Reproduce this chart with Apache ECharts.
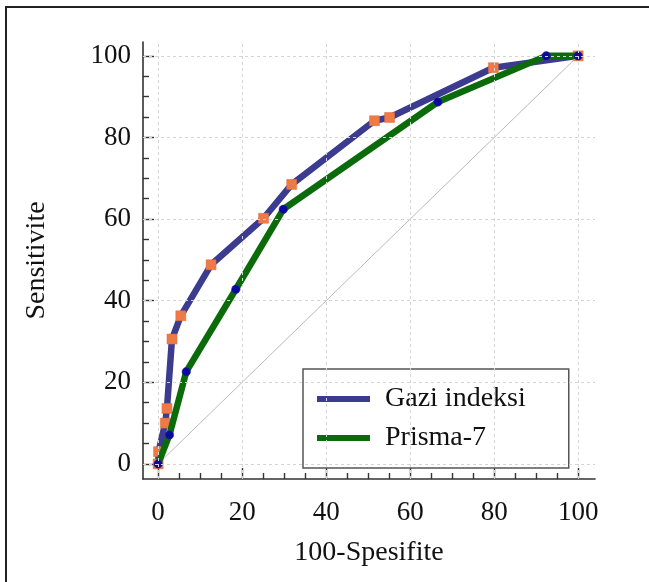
<!DOCTYPE html>
<html>
<head>
<meta charset="utf-8">
<script src="https://cdn.jsdelivr.net/npm/echarts@6/dist/echarts.min.js"></script>
<style>
html,body{margin:0;padding:0;width:649px;height:582px;overflow:hidden;background:#fff;}
#frame{position:absolute;left:5px;top:6px;width:900px;height:900px;border-left:2px solid #222;border-top:2px solid #222;box-sizing:border-box;}
#chart{position:absolute;left:0;top:0;width:649px;height:582px;}
</style>
</head>
<body>
<div id="frame"></div>
<div id="chart"></div>
<script>
// Data
const seriesNames = ['Gazi indeksi', 'Prisma-7'];
const gaziX = [0, 0.1, 1.7, 2.1, 3.3, 5.4, 12.6, 25.1, 31.8, 51.5, 55.1, 79.8, 100];
const gaziY = [0, 3.0, 10.0, 13.6, 30.6, 36.3, 48.8, 60.2, 68.5, 84.1, 84.9, 97.1, 100];
const prismaX = [0, 2.7, 6.7, 18.5, 29.8, 66.6, 92.4, 100];
const prismaY = [0, 7.1, 22.6, 42.8, 62.4, 88.7, 100, 100];
const diagX = [0, 100];
const diagY = [0, 100];
const majorTicks = [0, 20, 40, 60, 80, 100];
const minorTicks = [5, 10, 15, 25, 30, 35, 45, 50, 55, 65, 70, 75, 85, 90, 95];
const xName = '100-Spesifite';
const yName = 'Sensitivite';

const pairs = (xs, ys) => xs.map((x, i) => [x, ys[i]]);
const FONT = '"Liberation Serif", "Times New Roman", serif';
const GAZI_COLOR = '#3b3b8f';
const PRISMA_COLOR = '#0b6b0b';

const chart = echarts.init(document.getElementById('chart'), null, {renderer: 'canvas'});

const option = {
  backgroundColor: 'transparent',
  animation: false,
  grid: {left: 143, right: 54, top: 42, bottom: 103, containLabel: false, outerBoundsMode: 'none'},
  legend: {
    left: 303, top: 369,
    orient: 'vertical',
    backgroundColor: '#fff',
    borderColor: '#555', borderWidth: 1.5, borderRadius: 0,
    padding: [15, 43, 15, 14],
    itemWidth: 53, itemHeight: 6, itemGap: 9,
    icon: 'rect',
    textStyle: {fontFamily: FONT, fontSize: 28, color: '#111', lineHeight: 30, padding: [0, 0, 0, 10]},
    data: [
      {name: seriesNames[0], icon: 'rect', itemStyle: {color: GAZI_COLOR, borderWidth: 0}},
      {name: seriesNames[1], icon: 'rect', itemStyle: {color: PRISMA_COLOR, borderWidth: 0}}
    ]
  },
  xAxis: [
    {
      type: 'value', position: 'bottom', min: -3.6, max: 104,
      axisLine: {show: true, onZero: false, lineStyle: {color: '#333', width: 1.6}},
      splitLine: {show: false},
      name: xName, nameLocation: 'middle', nameGap: 60,
      nameTextStyle: {fontFamily: FONT, fontSize: 28, color: '#111'},
      axisTick: {show: true, inside: true, length: 11, customValues: majorTicks, lineStyle: {color: '#333', width: 1.4}},
      axisLabel: {show: true, customValues: majorTicks, margin: 20, fontFamily: FONT, fontSize: 27, color: '#111'}
    },
    {
      type: 'value', position: 'bottom', min: -3.6, max: 104,
      axisLine: {show: false, onZero: false},
      splitLine: {show: false},
      axisTick: {show: true, inside: true, length: 6, customValues: minorTicks, lineStyle: {color: '#333', width: 1.4}},
      axisLabel: {show: false}
    }
  ],
  yAxis: [
    {
      type: 'value', position: 'left', min: -3.7, max: 103.4,
      axisLine: {show: true, onZero: false, lineStyle: {color: '#333', width: 1.6}},
      splitLine: {show: false},
      name: yName, nameLocation: 'middle', nameGap: 92, nameRotate: 90,
      nameTextStyle: {fontFamily: FONT, fontSize: 28, color: '#111'},
      axisTick: {show: true, inside: true, length: 11, customValues: majorTicks, lineStyle: {color: '#333', width: 1.4}},
      axisLabel: {show: true, customValues: majorTicks, margin: 12, fontFamily: FONT, fontSize: 27, color: '#111'}
    },
    {
      type: 'value', position: 'left', min: -3.7, max: 103.4,
      axisLine: {show: false, onZero: false},
      splitLine: {show: false},
      axisTick: {show: true, inside: true, length: 6, customValues: minorTicks, lineStyle: {color: '#333', width: 1.4}},
      axisLabel: {show: false}
    }
  ],
  series: [
    {
      name: 'grid', type: 'line', data: [], silent: true,
      markLine: {
        silent: true, symbol: 'none', label: {show: false},
        lineStyle: {color: '#d4d4d4', width: 1, type: [3, 3]},
        data: majorTicks.map(v => ({xAxis: v})).concat(majorTicks.map(v => ({yAxis: v})))
      }
    },
    {
      name: 'diag', type: 'line', data: pairs(diagX, diagY), showSymbol: false, silent: true,
      lineStyle: {color: '#a8a8a8', width: 0.8}
    },
    {
      name: seriesNames[0], type: 'line', data: pairs(gaziX, gaziY),
      color: GAZI_COLOR,
      lineStyle: {color: GAZI_COLOR, width: 6.5},
      symbol: 'rect', symbolSize: 10, showSymbol: true,
      itemStyle: {color: '#f07a45', borderColor: '#d9703e', borderWidth: 0.5},
      z: 3
    },
    {
      name: seriesNames[1], type: 'line', data: pairs(prismaX, prismaY),
      color: PRISMA_COLOR,
      lineStyle: {color: PRISMA_COLOR, width: 6.5},
      symbol: 'circle', symbolSize: 8.5, showSymbol: true,
      itemStyle: {color: '#0a0a9c', borderColor: '#2a2aa0', borderWidth: 0.5},
      z: 4
    }
  ]
};
chart.setOption(option);
</script>
</body>
</html>
